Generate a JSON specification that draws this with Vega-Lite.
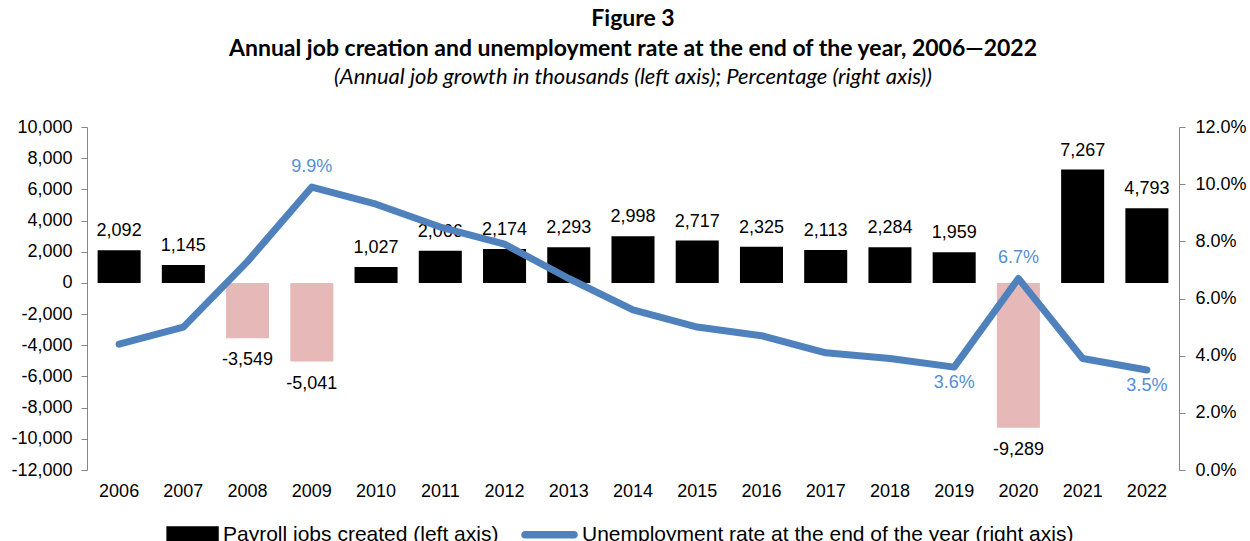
{
  "$schema": "https://vega.github.io/schema/vega-lite/v6.json",
  "width": 1092,
  "height": 343,
  "padding": {"left": 10, "top": 8, "right": 0, "bottom": 0},
  "background": "white",
  "title": {
    "text": ["Figure 3", "Annual job creation and unemployment rate at the end of the year, 2006\u20142022"],
    "subtitle": "(Annual job growth in thousands (left axis); Percentage (right axis))",
    "anchor": "middle",
    "font": "Lato",
    "fontSize": 23,
    "fontWeight": "bold",
    "lineHeight": 30,
    "color": "#000000",
    "subtitleFont": "Lato",
    "subtitleFontSize": 22,
    "subtitleFontStyle": "italic",
    "subtitleColor": "#000000",
    "subtitlePadding": 6,
    "offset": 30
  },
  "config": {
    "view": {"stroke": null},
    "locale": {"number": {"decimal": ".", "thousands": ",", "grouping": [3], "currency": ["$", ""], "minus": "-"}},
    "axis": {"labelFont": "Liberation Sans", "labelFontSize": 18, "labelColor": "#000000", "grid": false, "title": null}
  },
  "data": {
    "values": [
      {"year": "2006", "jobs": 2092, "rate": 0.044},
      {"year": "2007", "jobs": 1145, "rate": 0.050},
      {"year": "2008", "jobs": -3549, "rate": 0.073},
      {"year": "2009", "jobs": -5041, "rate": 0.099},
      {"year": "2010", "jobs": 1027, "rate": 0.093},
      {"year": "2011", "jobs": 2066, "rate": 0.085},
      {"year": "2012", "jobs": 2174, "rate": 0.079},
      {"year": "2013", "jobs": 2293, "rate": 0.067},
      {"year": "2014", "jobs": 2998, "rate": 0.056},
      {"year": "2015", "jobs": 2717, "rate": 0.050},
      {"year": "2016", "jobs": 2325, "rate": 0.047},
      {"year": "2017", "jobs": 2113, "rate": 0.041},
      {"year": "2018", "jobs": 2284, "rate": 0.039},
      {"year": "2019", "jobs": 1959, "rate": 0.036},
      {"year": "2020", "jobs": -9289, "rate": 0.067},
      {"year": "2021", "jobs": 7267, "rate": 0.039},
      {"year": "2022", "jobs": 4793, "rate": 0.035}
    ]
  },
  "encoding": {
    "x": {
      "field": "year",
      "type": "ordinal",
      "scale": {"paddingInner": 0.33, "paddingOuter": 0.165},
      "axis": {"labelAngle": 0, "domain": false, "ticks": false, "labelPadding": 12}
    }
  },
  "layer": [
    {
      "encoding": {
        "y": {
          "field": "jobs",
          "type": "quantitative",
          "scale": {"domain": [-12000, 10000], "nice": false, "zero": false},
          "axis": {
            "orient": "left",
            "values": [-12000, -10000, -8000, -6000, -4000, -2000, 0, 2000, 4000, 6000, 8000, 10000],
            "format": ",d",
            "domainColor": "#868686",
            "tickColor": "#868686",
            "tickSize": 6,
            "labelPadding": 9
          }
        }
      },
      "layer": [
        {
          "mark": {"type": "bar"},
          "encoding": {
            "color": {
              "condition": {"test": "datum.jobs < 0", "value": "#E6B9B8"},
              "datum": "Payroll jobs created (left axis)",
              "scale": {
                "domain": ["Payroll jobs created (left axis)", "Unemployment rate at the end of the year (right axis)"],
                "range": ["#000000", "#4F81BD"]
              },
              "legend": {
                "title": null,
                "orient": "none",
                "legendX": 75,
                "legendY": 379,
                "direction": "horizontal",
                "labelFont": "Liberation Sans",
                "labelFontSize": 21,
                "labelColor": "#000000",
                "labelOffset": 4,
                "labelLimit": 0,
                "columnPadding": 20,
                "symbolSize": 3025,
                "encode": {
                  "symbols": {
                    "update": {
                      "shape": {"signal": "datum.value === 'Payroll jobs created (left axis)' ? 'M-0.85,-0.27L1,-0.27L1,0.27L-0.85,0.27Z' : 'M-0.89,-0.11L0.89,-0.11A0.11,0.11 0 0 1 0.89,0.11L-0.89,0.11A0.11,0.11 0 0 1 -0.89,-0.11Z'"},
                      "fill": {"signal": "datum.value === 'Payroll jobs created (left axis)' ? '#000000' : '#4F81BD'"},
                      "stroke": {"value": "transparent"},
                      "opacity": {"value": 1},
                      "fillOpacity": {"value": 1}
                    }
                  }
                }
              }
            }
          }
        },
        {
          "mark": {"type": "rule", "color": "#868686", "strokeWidth": 1.5},
          "encoding": {"y": {"datum": 0}}
        },
        {
          "transform": [{"filter": "datum.jobs >= 0"}],
          "mark": {"type": "text", "baseline": "bottom", "dy": -10, "font": "Liberation Sans", "fontSize": 18, "color": "#000000"},
          "encoding": {"text": {"field": "jobs", "type": "quantitative", "format": ","}}
        },
        {
          "transform": [{"filter": "datum.jobs < 0"}],
          "mark": {"type": "text", "baseline": "top", "dy": 13, "font": "Liberation Sans", "fontSize": 18, "color": "#000000"},
          "encoding": {"text": {"field": "jobs", "type": "quantitative", "format": ","}}
        }
      ]
    },
    {
      "encoding": {
        "y": {
          "field": "rate",
          "type": "quantitative",
          "scale": {"domain": [0, 0.12], "nice": false},
          "axis": {
            "orient": "right",
            "values": [0, 0.02, 0.04, 0.06, 0.08, 0.1, 0.12],
            "format": ".1%",
            "domainColor": "#868686",
            "tickColor": "#868686",
            "tickSize": 6,
            "labelPadding": 10
          }
        }
      },
      "layer": [
        {
          "mark": {"type": "line", "strokeWidth": 7, "strokeCap": "round", "strokeJoin": "round"},
          "encoding": {"color": {"datum": "Unemployment rate at the end of the year (right axis)"}}
        },
        {
          "transform": [{"filter": {"field": "year", "oneOf": ["2009", "2020"]}}],
          "mark": {"type": "text", "baseline": "bottom", "dy": -11, "font": "Liberation Sans", "fontSize": 18, "color": "#558ED5"},
          "encoding": {"text": {"field": "rate", "type": "quantitative", "format": ".1%"}}
        },
        {
          "transform": [{"filter": {"field": "year", "oneOf": ["2019", "2022"]}}],
          "mark": {"type": "text", "baseline": "top", "dy": 7, "font": "Liberation Sans", "fontSize": 18, "color": "#558ED5"},
          "encoding": {"text": {"field": "rate", "type": "quantitative", "format": ".1%"}}
        }
      ]
    }
  ],
  "resolve": {"scale": {"y": "independent"}}
}
